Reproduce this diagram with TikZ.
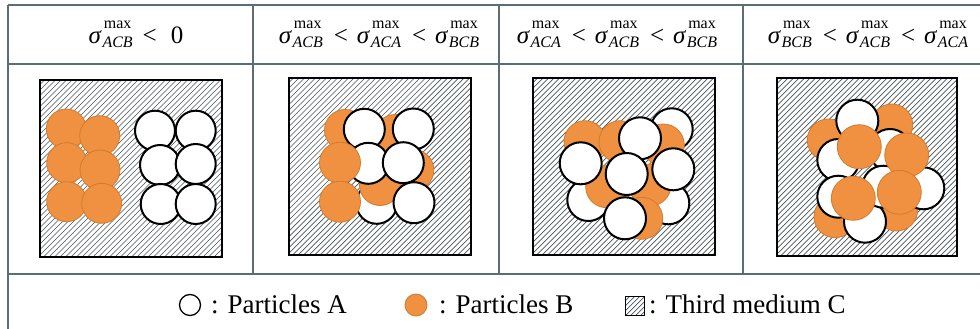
\documentclass[tikz,border=0pt]{standalone}
\usepackage{fontspec}
\setmainfont{Liberation Serif}
\definecolor{tline}{HTML}{5B6E78}
\definecolor{orfill}{HTML}{EF9140}
\definecolor{ordraw}{HTML}{D27A2E}
\definecolor{hatchc}{HTML}{46545A}
\newcommand\sgm[1]{{\itshape σ}\kern1.5pt\setbox0=\hbox{\fontsize{16}{16}\selectfont\itshape #1}\rlap{\hbox to\wd0{\hss\raisebox{15pt}{\fontsize{16}{16}\selectfont max}\hss}}\raisebox{-4pt}{\box0}}
\tikzset{
  tl/.style={draw=tline, line width=1.2pt},
  hatchline/.style={draw=hatchc, line width=0.7pt},
  boxline/.style={draw=black, line width=1.9pt},
  pa/.style={fill=white, draw=black, line width=2pt},
  pb/.style={fill=orfill, draw=ordraw, line width=0.8pt},
  hdr/.style={font=\fontsize{25}{28}\selectfont, inner sep=0pt},
  leg/.style={font=\fontsize{27}{30}\selectfont, inner sep=0pt, anchor=base west},
}
\newcommand\hatchbox[5]{% x1,y1,x2,y2,spacing
  \begin{scope}
    \clip (#1,#2) rectangle (#3,#4);
    \foreach \k in {0,...,75} \draw[hatchline] ({#1+\k*#5-200},#4) -- ++(200,-200);
  \end{scope}
  \draw[boxline] (#1,#2) rectangle (#3,#4);}
\begin{document}
\begin{tikzpicture}[x=1pt,y=-1pt]
\useasboundingbox[fill=white] (0,0) rectangle (980,329);
% table lines
\draw[tl] (8,5) -- (980,5);
\draw[tl] (8,64) -- (980,64);
\draw[tl] (8,274) -- (980,274);
\draw[tl] (8,5) -- (8,329);
\draw[tl] (253,5) -- (253,274);
\draw[tl] (499,5) -- (499,274);
\draw[tl] (743,5) -- (743,274);
% headers
\node[hdr] (h1) at (136,34) {\sgm{ACB}\hspace{10pt}<\hspace{14pt}0};
\node[hdr] (h2) at (379,34) {\sgm{ACB}\hspace{11pt}<\hspace{9pt}\sgm{ACA}\hspace{11pt}<\hspace{9pt}\sgm{BCB}};
\node[hdr] (h3) at (617,34) {\sgm{ACA}\hspace{11pt}<\hspace{9pt}\sgm{ACB}\hspace{11pt}<\hspace{9pt}\sgm{BCB}};
\node[hdr] (h4) at (868,34) {\sgm{BCB}\hspace{11pt}<\hspace{9pt}\sgm{ACB}\hspace{11pt}<\hspace{9pt}\sgm{ACA}};
% panel 1
\hatchbox{40}{80}{222}{257}{5.5}
\foreach \x/\y in {66.3/129,66.7/162.7,66.7/201.7,99.7/135.7,100/170,101.7/203.3}
  \draw[pb] (\x,\y) circle[radius=20pt];
\foreach \x/\y in {155/130.7,195.7/130.7,160/165,195.7/164,160.7/204,195.7/204}
  \draw[pa] (\x,\y) circle[radius=20pt];
% panel 2
\hatchbox{289}{78}{471}{255}{5.5}
\draw[pb] (345,130) circle[radius=20.5pt];
\draw[pb] (395,135) circle[radius=20.5pt];
\draw[pa] (364.3,129.3) circle[radius=20.5pt];
\draw[pa] (413.3,129) circle[radius=20.5pt];
\draw[pb] (413.3,170) circle[radius=20.5pt];
\draw[pa] (376.7,203.3) circle[radius=20.5pt];
\draw[pb] (380,185) circle[radius=20.5pt];
\draw[pa] (368.3,163.3) circle[radius=20.5pt];
\draw[pa] (403.3,162.7) circle[radius=20.5pt];
\draw[pb] (340,162.7) circle[radius=20.5pt];
\draw[pb] (340,201.7) circle[radius=20.5pt];
\draw[pa] (414,202.7) circle[radius=20.5pt];
% panel 3
\hatchbox{533}{78}{715}{255}{5.5}
\draw[pa] (671.7,129.3) circle[radius=21pt];
\draw[pb] (585,141.7) circle[radius=21pt];
\draw[pb] (620,141.7) circle[radius=21pt];
\draw[pb] (663.3,145) circle[radius=21pt];
\draw[pa] (588.3,200) circle[radius=21pt];
\draw[pa] (668.3,203.3) circle[radius=21pt];
\draw[pb] (606.7,186.7) circle[radius=21pt];
\draw[pb] (650,185) circle[radius=21pt];
\draw[pa] (640,138.3) circle[radius=21pt];
\draw[pa] (580.7,163.3) circle[radius=21pt];
\draw[pa] (626.7,174) circle[radius=21pt];
\draw[pa] (673.3,169.3) circle[radius=21pt];
\draw[pb] (641.7,218.3) circle[radius=21pt];
\draw[pa] (625,218.3) circle[radius=21pt];
% panel 4
\hatchbox{777}{78}{957}{256}{5.5}
\draw[pb] (828.3,140) circle[radius=21pt];
\draw[pb] (891.7,125) circle[radius=21pt];
\draw[pa] (857.3,120.7) circle[radius=21pt];
\draw[pa] (890,150) circle[radius=21pt];
\draw[pa] (838.3,160) circle[radius=21pt];
\draw[pb] (835,216.7) circle[radius=21pt];
\draw[pb] (896.7,210) circle[radius=21pt];
\draw[pa] (838.3,196.7) circle[radius=21pt];
\draw[pa] (923.3,188.3) circle[radius=21pt];
\draw[pa] (865,221.7) circle[radius=21pt];
\draw[pa] (883.3,186.7) circle[radius=21pt];
\draw[pb] (859.3,146.7) circle[radius=22pt];
\draw[pb] (906.7,155) circle[radius=22pt];
\draw[pb] (853.3,198.3) circle[radius=22pt];
\draw[pb] (899.3,192.3) circle[radius=22pt];
% legend
\draw[draw=black, line width=1.3pt] (190,305) circle[radius=10.5pt];
\node[leg] (la) at (211,313) {: Particles A};
\draw[pb] (416,305) circle[radius=11pt];
\node[leg] (lb) at (439,313) {: Particles B};
\begin{scope}
  \clip (625.5,296.5) rectangle (644.5,315.5);
  \foreach \k in {0,...,8} \draw[hatchline] ({605.5+\k*5},315.5) -- ++(20,-20);
\end{scope}
\draw[draw=black, line width=1.5pt] (625.5,296.5) rectangle (644.5,315.5);
\node[leg] (lc) at (649,313) {: Third medium C};
\end{tikzpicture}
\end{document}
